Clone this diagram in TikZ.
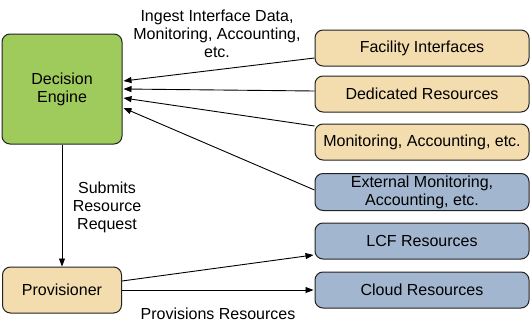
\documentclass[tikz,border=0pt]{standalone}
\usepackage{fontspec}
\setmainfont{Liberation Sans}
\usetikzlibrary{arrows.meta}
\definecolor{engineGreen}{HTML}{9FCB5C}
\definecolor{localTan}{HTML}{F3DDAE}
\definecolor{remoteBlue}{HTML}{A3B6CF}
\definecolor{edgeDark}{HTML}{222222}
\begin{document}
\begin{tikzpicture}[x=1pt,y=-1pt,
  every node/.style={font=\fontsize{16pt}{18pt}\selectfont, text=black, align=center, inner sep=0pt},
  box/.style={draw=edgeDark, line width=1pt, rounded corners=8pt},
  enginebox/.style={box, fill=engineGreen, minimum width=120pt, minimum height=110pt},
  localbox/.style={box, fill=localTan, minimum width=214pt, minimum height=36pt},
  remotebox/.style={localbox, fill=remoteBlue},
  link/.style={draw=black, line width=0.9pt, -{Triangle[length=8pt,width=6pt]}},
  label/.style={}
]
\useasboundingbox (0,0) rectangle (531,327);

% decision engine and provisioner
\node[enginebox] (dec) at (62,89) {Decision\\Engine};
\node[localbox, minimum width=119pt, minimum height=46pt] (prov) at (62,290) {Provisioner};

% data sources
\node[localbox] (fac) at (422,48) {Facility Interfaces};
\node[localbox] (ded) at (422,94) {Dedicated Resources};
\node[localbox] (mon) at (422,142) {Monitoring, Accounting, etc.};
\node[remotebox, minimum height=37pt] (ext) at (422,192) {External Monitoring,\\Accounting, etc.};

% resource targets
\node[remotebox] (lcf) at (422,241) {LCF Resources};
\node[remotebox] (cloud) at (422,290) {Cloud Resources};

% ingestion arrows
\draw[link] ([yshift=-10pt]fac.west) -- ([yshift=8pt,xshift=1pt]dec.east);
\draw[link] ([yshift=3pt]ded.west) -- ([xshift=1pt]dec.east);
\draw[link] ([yshift=16pt]mon.west) -- ([yshift=-9pt,xshift=1pt]dec.east);
\draw[link] ([yshift=2pt]ext.west) -- ([yshift=-19pt,xshift=1pt]dec.east);

% request and provisioning arrows
\draw[link] (dec.south) -- (prov.north);
\draw[link] ([yshift=9pt]prov.east) -- ([yshift=-14pt,xshift=-1pt]lcf.west);
\draw[link] (prov.east) -- ([xshift=-1pt]cloud.west);

% labels
\node[label] (ingest) at (217,34) {Ingest Interface Data,\\Monitoring, Accounting,\\etc.};
\node[label] (submit) at (107,207) {Submits\\Resource\\Request};
\node[label] (provlbl) at (218,314) {Provisions Resources};
\end{tikzpicture}
\end{document}
